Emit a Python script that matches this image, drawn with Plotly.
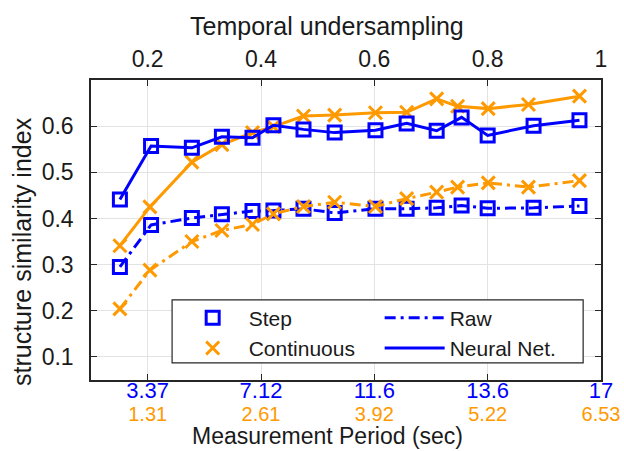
import plotly.graph_objects as go

# ---- data ----
x_step = [0.151, 0.206, 0.278, 0.331, 0.385, 0.422, 0.475, 0.530, 0.602, 0.657, 0.710, 0.754, 0.800, 0.881, 0.962]
x_cont = [0.151, 0.204, 0.278, 0.331, 0.385, 0.422, 0.475, 0.530, 0.602, 0.657, 0.710, 0.747, 0.801, 0.872, 0.962]

step_nn = [0.441, 0.557, 0.553, 0.577, 0.575, 0.602, 0.593, 0.586, 0.591, 0.606, 0.590, 0.619, 0.580, 0.601, 0.613]
cont_nn = [0.341, 0.425, 0.522, 0.560, 0.586, 0.599, 0.622, 0.624, 0.629, 0.630, 0.659, 0.643, 0.638, 0.647, 0.665]
step_raw = [0.295, 0.386, 0.401, 0.409, 0.416, 0.417, 0.421, 0.412, 0.421, 0.421, 0.423, 0.428, 0.422, 0.423, 0.427]
cont_raw = [0.204, 0.288, 0.350, 0.374, 0.387, 0.410, 0.426, 0.435, 0.426, 0.443, 0.457, 0.468, 0.477, 0.468, 0.482]

tick_vals = [0.2, 0.4, 0.6, 0.8, 1.0]
top_labels = ["0.2", "0.4", "0.6", "0.8", "1"]
step_period_labels = ["3.37", "7.12", "11.6", "13.6", "17"]
cont_period_labels = ["1.31", "2.61", "3.92", "5.22", "6.53"]
y_ticks = [0.1, 0.2, 0.3, 0.4, 0.5, 0.6]

top_title = "Temporal undersampling"
bottom_title = "Measurement Period (sec)"
y_title = "structure similarity index"

BLUE = "#0000FF"
ORANGE = "#FF9900"
FONT = "Liberation Sans, Arial, sans-serif"
TXT = "#1a1a1a"
AXC = "#262626"
GRID = "#E3E3E3"
DASHDOT = "11px,5px,3px,5px"

fig = go.Figure()

# data traces (no legend)
fig.add_trace(go.Scatter(x=x_step, y=step_raw, mode="lines+markers", showlegend=False,
                         line=dict(color=BLUE, width=3, dash=DASHDOT),
                         marker=dict(symbol="square-open", size=13, color=BLUE, line=dict(width=3, color=BLUE))))
fig.add_trace(go.Scatter(x=x_cont, y=cont_raw, mode="lines+markers", showlegend=False,
                         line=dict(color=ORANGE, width=3, dash=DASHDOT),
                         marker=dict(symbol="x-thin", size=13, color=ORANGE, line=dict(width=3, color=ORANGE))))
fig.add_trace(go.Scatter(x=x_cont, y=cont_nn, mode="lines+markers", showlegend=False,
                         line=dict(color=ORANGE, width=3),
                         marker=dict(symbol="x-thin", size=13, color=ORANGE, line=dict(width=3, color=ORANGE))))
fig.add_trace(go.Scatter(x=x_step, y=step_nn, mode="lines+markers", showlegend=False,
                         line=dict(color=BLUE, width=3),
                         marker=dict(symbol="square-open", size=13, color=BLUE, line=dict(width=3, color=BLUE))))

# legend entries
fig.add_trace(go.Scatter(x=[None], y=[None], mode="markers", name="Step", legend="legend",
                         marker=dict(symbol="square-open", size=13, color=BLUE, line=dict(width=3, color=BLUE))))
fig.add_trace(go.Scatter(x=[None], y=[None], mode="markers", name="Continuous", legend="legend",
                         marker=dict(symbol="x-thin", size=13, color=ORANGE, line=dict(width=3, color=ORANGE))))
fig.add_trace(go.Scatter(x=[None], y=[None], mode="lines", name="Raw", legend="legend2",
                         line=dict(color=BLUE, width=3, dash=DASHDOT)))
fig.add_trace(go.Scatter(x=[None], y=[None], mode="lines", name="Neural Net.", legend="legend2",
                         line=dict(color=BLUE, width=3)))

# helper traces so the extra x-axes are drawn
fig.add_trace(go.Scatter(x=[0.5], y=[0.3], xaxis="x2", mode="markers", showlegend=False,
                         marker=dict(opacity=0), hoverinfo="skip"))
fig.add_trace(go.Scatter(x=[0.5], y=[0.3], xaxis="x3", mode="markers", showlegend=False,
                         marker=dict(opacity=0), hoverinfo="skip"))

fig.update_layout(
    width=624, height=451,
    margin=dict(l=91, r=23, t=80, b=71, autoexpand=False),
    paper_bgcolor="white", plot_bgcolor="white",
    font=dict(family=FONT, size=23, color=TXT),
    xaxis=dict(range=[0.1, 1.0], tickvals=tick_vals, ticktext=step_period_labels,
               tickfont=dict(color=BLUE, size=22), ticks="inside", ticklen=6, tickcolor=AXC,
               showline=True, linecolor=AXC, linewidth=1.5, showgrid=True, gridcolor=GRID, gridwidth=1,
               zeroline=False, ticklabelstandoff=-10, automargin=False),
    xaxis2=dict(range=[0.1, 1.0], overlaying="x", side="top", anchor="y",
                tickvals=tick_vals, ticktext=top_labels, tickfont=dict(size=23, color=TXT),
                ticks="inside", ticklen=6, tickcolor=AXC, showline=True, linecolor=AXC, linewidth=1.5,
                showgrid=False, zeroline=False, ticklabelstandoff=2, automargin=False),
    xaxis3=dict(range=[0.1, 1.0], overlaying="x", anchor="free", position=0, side="bottom",
                tickvals=tick_vals, ticktext=cont_period_labels, tickfont=dict(color=ORANGE, size=20),
                ticks="", showline=False, showgrid=False, zeroline=False, ticklabelstandoff=20,
                automargin=False),
    yaxis=dict(range=[0.05, 0.7], tickvals=y_ticks, ticktext=[f"{v:.1f}" for v in y_ticks],
               ticks="inside", ticklen=6, tickcolor=AXC, showline=True, linecolor=AXC, linewidth=1.5,
               mirror="ticks", showgrid=True, gridcolor=GRID, gridwidth=1, zeroline=False,
               ticklabelstandoff=11, tickfont=dict(size=23, color=TXT), automargin=False),
    legend=dict(x=0.168, y=0.275, xanchor="left", yanchor="top", bgcolor="rgba(0,0,0,0)",
                font=dict(size=21, color=TXT), itemwidth=62, tracegroupgap=0),
    legend2=dict(x=0.566, y=0.275, xanchor="left", yanchor="top", bgcolor="rgba(0,0,0,0)",
                 font=dict(size=21, color=TXT), itemwidth=60, tracegroupgap=0),
    shapes=[dict(type="rect", xref="paper", yref="paper", x0=0.159, x1=0.965, y0=0.057, y1=0.267,
                 line=dict(color=AXC, width=1.2), fillcolor="white", layer="above")],
    annotations=[
        dict(text=top_title, xref="paper", yref="paper", x=0.463, y=(380 - 26) / 300,
             xanchor="center", yanchor="middle", showarrow=False, font=dict(size=25, color=TXT)),
        dict(text=bottom_title, xref="paper", yref="paper", x=0.463, y=(380 - 436) / 300,
             xanchor="center", yanchor="middle", showarrow=False, font=dict(size=23, color=TXT)),
        dict(text=y_title, xref="paper", yref="paper", x=(22 - 91) / 510, y=(380 - 252) / 300,
             xanchor="center", yanchor="middle", textangle=-90, showarrow=False,
             font=dict(size=25, color=TXT)),
    ],
    showlegend=True,
)

fig.write_html("out.html")
